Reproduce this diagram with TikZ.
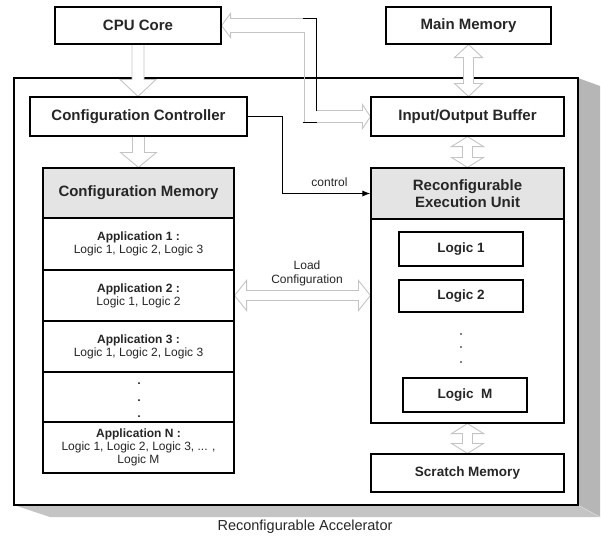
\documentclass[tikz,border=0pt]{standalone}
\usepackage{fontspec}
\setmainfont{Liberation Sans}
\usetikzlibrary{calc,arrows.meta}
\pgfdeclarelayer{back}
\pgfdeclarelayer{mid}
\pgfsetlayers{back,mid,main}

\definecolor{hdrgray}{HTML}{E4E4E4}
\definecolor{pipegray}{HTML}{C4C4C4}
\definecolor{sidegray}{HTML}{B6B6B6}
\definecolor{basegray}{HTML}{C4C4C4}

% hollow double-headed vertical arrow: top point, bottom point, half shaft, half head, head length
\newcommand\vdbl[5]{%
  \path[hollow] let \p1=(#1), \p2=(#2) in
    (\x1,\y1) -- (\x1+#4,\y1-#5) -- (\x1+#3,\y1-#5) -- (\x1+#3,\y2+#5)
    -- (\x1+#4,\y2+#5) -- (\x1,\y2) -- (\x1-#4,\y2+#5) -- (\x1-#3,\y2+#5)
    -- (\x1-#3,\y1-#5) -- (\x1-#4,\y1-#5) -- cycle;}
% hollow single-headed downward arrow
\newcommand\vsgl[5]{%
  \path[hollowfill] let \p1=(#1), \p2=(#2) in
    (\x1-#3,\y1) -- (\x1-#3,\y2+#5) -- (\x1-#4,\y2+#5) -- (\x1,\y2)
    -- (\x1+#4,\y2+#5) -- (\x1+#3,\y2+#5) -- (\x1+#3,\y1) -- cycle;
  \draw[hollowline] let \p1=(#1), \p2=(#2) in
    (\x1-#3,\y1) -- (\x1-#3,\y2+#5) -- (\x1-#4,\y2+#5) -- (\x1,\y2)
    -- (\x1+#4,\y2+#5) -- (\x1+#3,\y2+#5) -- (\x1+#3,\y1);}
% hollow double-headed horizontal arrow: left point, right point, half shaft, half head, head length
\newcommand\hdbl[5]{%
  \path[hollow] let \p1=(#1), \p2=(#2) in
    (\x1,\y1) -- (\x1+#5,\y1+#4) -- (\x1+#5,\y1+#3) -- (\x2-#5,\y1+#3)
    -- (\x2-#5,\y1+#4) -- (\x2,\y1) -- (\x2-#5,\y1-#4) -- (\x2-#5,\y1-#3)
    -- (\x1+#5,\y1-#3) -- (\x1+#5,\y1-#4) -- cycle;}

\begin{document}
\begin{tikzpicture}[x=1pt,y=-1pt,
  box/.style={draw=black,line width=1.1pt,fill=white,inner sep=0pt,
    text=black!85,align=center},
  hdr/.style={box,fill=hdrgray},
  big/.style={font=\fontsize{15}{17.5}\selectfont\bfseries},
  mid/.style={font=\fontsize{13.5}{16}\selectfont\bfseries},
  small/.style={font=\fontsize{12}{13}\selectfont},
  hollow/.style={draw=pipegray,line width=0.9pt,fill=white,line join=miter},
  hollowfill/.style={fill=white},
  hollowline/.style={draw=pipegray,line width=0.9pt},
  ctl/.style={draw=black,line width=1pt,-{Latex[length=8pt,width=6pt]}},
  dot/.style={fill=black,circle,inner sep=0pt,minimum size=2pt}]

\useasboundingbox (0,0) rectangle (601,538);

% accelerator enclosure with its extruded shadow
\begin{pgfonlayer}{back}
  \fill[sidegray] (578,78) -- (600,86) -- (600,517) -- (578,505) -- cycle;
  \fill[basegray] (14,505) -- (50,517) -- (600,517) -- (578,505) -- cycle;
  \draw[white!70!gray,line width=0.6pt] (578,505) -- (600,517);
  \draw[black,line width=1.3pt,fill=white] (14,78) rectangle (578,505);
\end{pgfonlayer}
\node[font=\fontsize{14.5}{16}\selectfont,text=black!85] (cap) at (305,527) {Reconfigurable Accelerator};

% blocks outside the accelerator
\node[box,big,minimum width=166pt,minimum height=37pt] (cpu) at (138,25.5) {CPU Core};
\node[box,big,minimum width=165pt,minimum height=37pt] (mm) at (468.5,25.5) {Main Memory};

% controller and buffer
\node[box,big,minimum width=217pt,minimum height=39pt] (ctrl) at (138.5,116.5) {Configuration Controller};
\node[box,big,minimum width=193pt,minimum height=39pt] (io) at (467.5,116.5) {Input/Output Buffer};

% configuration memory table
\node[hdr,big,minimum width=191pt,minimum height=50pt] (cmh) at (138.5,193) {Configuration Memory};
\node[box,small,minimum width=191pt,minimum height=52pt] (app1) at (138.5,244)
  {\textbf{Application 1 :}\\Logic 1, Logic 2, Logic 3};
\node[box,small,minimum width=191pt,minimum height=51pt] (app2) at (138.5,295.5)
  {\textbf{Application 2 :}\\Logic 1, Logic 2};
\node[box,small,minimum width=191pt,minimum height=51pt] (app3) at (138.5,346.5)
  {\textbf{Application 3 :}\\Logic 1, Logic 2, Logic 3};
\node[box,minimum width=191pt,minimum height=50pt] (appd) at (138.5,397) {};
\node[box,small,minimum width=191pt,minimum height=51pt] (appn) at (138.5,447.5)
  {\textbf{Application N :}\\Logic 1, Logic 2, Logic 3, ... ,\\Logic M};
\node[dot] (cd1) at (139,383) {};
\node[dot] (cd2) at (139,400) {};
\node[dot] (cd3) at (139,416) {};

% reconfigurable execution unit
\node[hdr,big,minimum width=193pt,minimum height=51pt] (reuh) at (467.5,193.5)
  {Reconfigurable\\Execution Unit};
\node[box,minimum width=193pt,minimum height=204pt] (reub) at (467.5,321) {};
\node[box,mid,minimum width=124pt,minimum height=34pt] (l1) at (461,249) {Logic 1};
\node[box,mid,minimum width=124pt,minimum height=32pt] (l2) at (461,296) {Logic 2};
\node[box,mid,minimum width=124pt,minimum height=34pt] (lm) at (465,395) {Logic\ \ M};
\node[dot,minimum size=1.8pt] (rd1) at (461,334) {};
\node[dot,minimum size=1.8pt] (rd2) at (461,347) {};
\node[dot,minimum size=1.8pt] (rd3) at (461,362) {};

\node[box,mid,minimum width=193pt,minimum height=38pt] (sm) at (467.5,473) {Scratch Memory};

% wide data paths
\begin{pgfonlayer}{mid}
  \vsgl{cpu.south}{ctrl.north}{6pt}{18pt}{17pt}
  \vsgl{ctrl.south}{cmh.north}{6pt}{18pt}{15pt}
  \vdbl{mm.south}{io.north}{5pt}{14pt}{13pt}
  \vdbl{io.south}{reuh.north}{5pt}{16pt}{10pt}
  \vdbl{reub.south}{sm.north}{5pt}{16pt}{10pt}
  \hdbl{cmh.east |- app2.east}{reub.west |- app2.east}{5pt}{15pt}{12pt}
  % CPU <-> I/O buffer path with two bends
  \coordinate (bend) at (310.5,0);
  \draw[hollowline,line join=miter] let \p1=(cpu.east), \p2=(io.west), \p3=(bend) in
    (\x1,\y1) -- (\x1+9pt,\y1+12pt) -- (\x1+9pt,\y1+7pt) -- (\x3+6pt,\y1+7pt)
    -- (\x3+6pt,\y2+6pt) -- (\x2-8pt,\y2+6pt) -- (\x2-8pt,\y2+12pt) -- (\x2,\y2)
    -- (\x2-8pt,\y2-12pt) -- (\x2-8pt,\y2-6pt) -- (\x3-6pt,\y2-6pt)
    -- (\x3-6pt,\y1-7pt) -- (\x1+9pt,\y1-7pt) -- (\x1+9pt,\y1-12pt) -- cycle;
\end{pgfonlayer}
\draw[black,line width=1pt] let \p1=(cpu.east), \p2=(io.west), \p3=(bend) in
  (\x3-8pt,\y1+7pt) -- (\x3+6pt,\y1+7pt) -- (\x3+6pt,\y2+6pt)
  (\x3-8pt,\y2-6pt) -- (\x3+6pt,\y2-6pt);

% control signal
\draw[ctl] (ctrl.east) -| ($(reuh.west)+(-88,0)$) -- (reuh.west);
\node[small,text=black!85] (ctllbl) at ($(reuh.west)+(-41,-11.5)$) {control};

% load configuration label
\node[small,text=black!85,align=center,font=\fontsize{12}{14}\selectfont] (ldlbl) at (307,273)
  {Load\\Configuration};

\end{tikzpicture}
\end{document}
